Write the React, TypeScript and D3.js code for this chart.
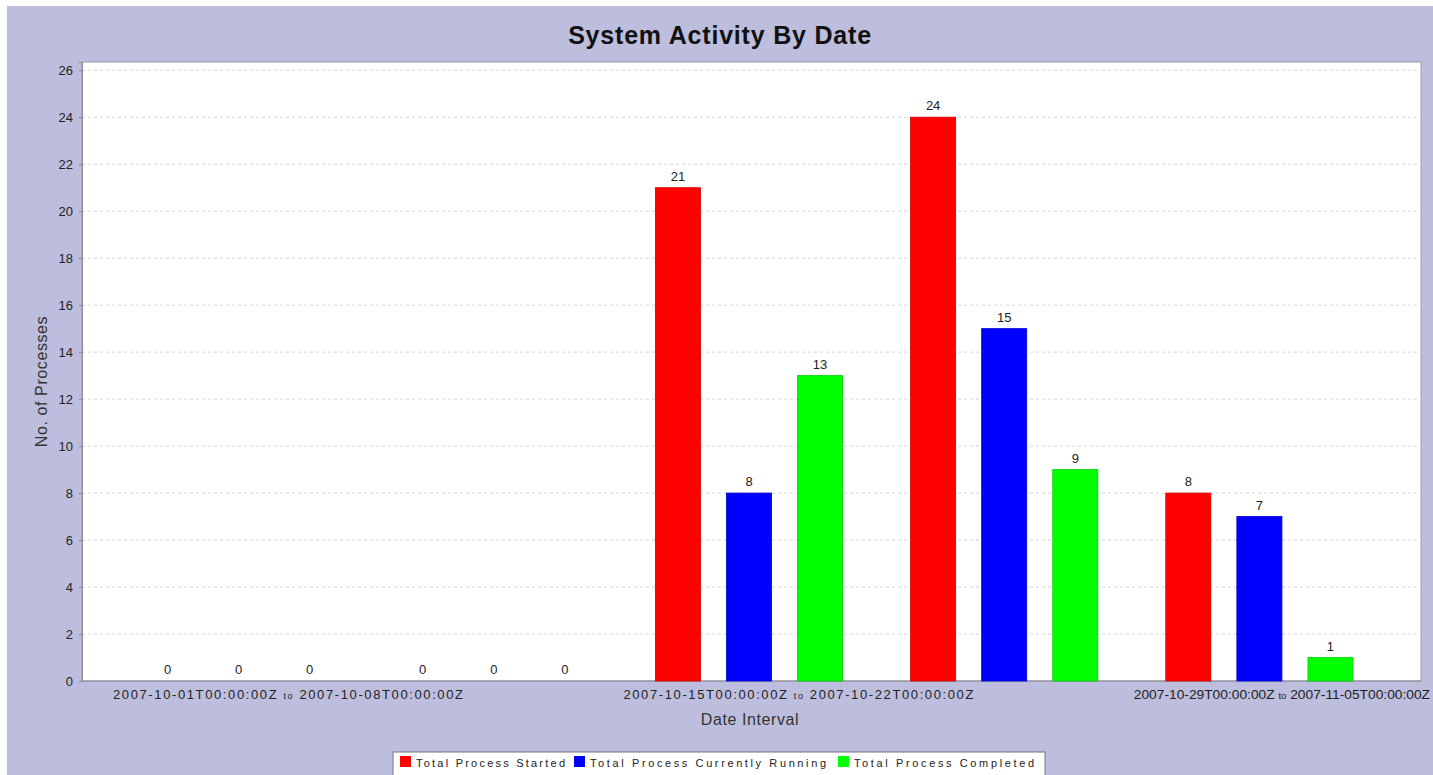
import React, { useEffect, useRef } from "react";
import * as d3 from "d3";

// chart data
const categories = [
  "2007-10-01T00:00:00Z to 2007-10-08T00:00:00Z",
  "2007-10-08T00:00:00Z to 2007-10-15T00:00:00Z",
  "2007-10-15T00:00:00Z to 2007-10-22T00:00:00Z",
  "2007-10-22T00:00:00Z to 2007-10-29T00:00:00Z",
  "2007-10-29T00:00:00Z to 2007-11-05T00:00:00Z",
];
const seriesNames = [
  "Total Process Started",
  "Total Process Currently Running",
  "Total Process Completed",
];
const started = [0, 0, 21, 24, 8];
const running = [0, 0, 8, 15, 7];
const completed = [0, 0, 13, 9, 1];
const seriesColors = ["#ff0000", "#0000ff", "#00ff00"];
const yTicks = [0, 2, 4, 6, 8, 10, 12, 14, 16, 18, 20, 22, 24, 26];

const App = () => {
  const ref = useRef(null);

  useEffect(() => {
    const width = 1433;
    const height = 775;
    const font = "Liberation Sans, Arial, sans-serif";
    const root = d3.select(ref.current);
    root.selectAll("*").remove();

    const svg = root
      .append("svg")
      .attr("width", width)
      .attr("height", height)
      .style("display", "block");

    svg.append("rect").attr("width", width).attr("height", height).attr("fill", "#ffffff");
    // lavender chart background
    svg
      .append("rect")
      .attr("x", 7)
      .attr("y", 6)
      .attr("width", width - 7)
      .attr("height", height - 6)
      .attr("fill", "#bdbedd");

    const plot = { left: 82, top: 62, right: 1421, bottom: 681 };

    const y = d3
      .scaleLinear()
      .domain([0, 26.35])
      .range([plot.bottom, plot.top]);

    const x0 = d3
      .scaleBand()
      .domain(categories)
      .range([111, 1387])
      .paddingInner(0)
      .paddingOuter(0);

    const x1 = d3
      .scaleBand()
      .domain(seriesNames)
      .range([0, x0.bandwidth()])
      .paddingInner(0.366)
      .paddingOuter(0.478);

    const values = [started, running, completed];

    // plot area
    svg
      .append("rect")
      .attr("x", plot.left)
      .attr("y", plot.top)
      .attr("width", plot.right - plot.left)
      .attr("height", plot.bottom - plot.top)
      .attr("fill", "#ffffff")
      .attr("stroke", "#9a9aa8")
      .attr("stroke-width", 1);

    // gridlines
    svg
      .append("g")
      .selectAll("line")
      .data(yTicks.filter((t) => t > 0))
      .join("line")
      .attr("x1", plot.left)
      .attr("x2", plot.right)
      .attr("y1", (d) => y(d))
      .attr("y2", (d) => y(d))
      .attr("stroke", "#d4d4d4")
      .attr("stroke-width", 1)
      .attr("stroke-dasharray", "3,3");

    // y axis
    const yAxis = d3
      .axisLeft(y)
      .tickValues(yTicks)
      .tickSize(3)
      .tickPadding(6)
      .tickFormat(d3.format("d"));
    const gy = svg
      .append("g")
      .attr("transform", `translate(${plot.left},0)`)
      .call(yAxis);
    gy.select(".domain").attr("stroke", "#8a8a96");
    gy.selectAll(".tick line").attr("stroke", "#8a8a96");
    gy.selectAll(".tick text")
      .attr("fill", "#222")
      .style("font-family", font)
      .style("font-size", "13px");

    // x axis line
    svg
      .append("line")
      .attr("x1", plot.left)
      .attr("x2", plot.right)
      .attr("y1", plot.bottom)
      .attr("y2", plot.bottom)
      .attr("stroke", "#8a8a96");

    // bars
    categories.forEach((cat, ci) => {
      seriesNames.forEach((s, si) => {
        const v = values[si][ci];
        const bx = (x0(cat) as number) + (x1(s) as number);
        if (v > 0) {
          svg
            .append("rect")
            .attr("x", bx)
            .attr("y", y(v))
            .attr("width", x1.bandwidth())
            .attr("height", y(0) - y(v))
            .attr("fill", seriesColors[si])
            .attr("stroke", d3.color(seriesColors[si])!.darker(0.6).toString())
            .attr("stroke-width", 0.8);
        }
        svg
          .append("text")
          .attr("x", bx + x1.bandwidth() / 2)
          .attr("y", y(v) - 7)
          .attr("text-anchor", "middle")
          .style("font-family", font)
          .style("font-size", "13px")
          .attr("fill", "#222")
          .text(v);
      });
    });

    // category labels (every other one is hidden, as in the original)
    categories.forEach((cat, ci) => {
      if (ci % 2 !== 0) return;
      const parts = cat.split(" to ");
      const lx = (x0(cat) as number) + 2;
      // the last label is squeezed so it stays inside the picture
      const len = Math.min(350, width - 3 - lx);
      const t = svg
        .append("text")
        .attr("x", lx)
        .attr("y", plot.bottom + 18)
        .attr("textLength", len)
        .attr("lengthAdjust", len < 350 ? "spacingAndGlyphs" : "spacing")
        .style("font-family", font)
        .style("font-size", "13px")
        .attr("fill", "#222");
      t.append("tspan").text(parts[0] + " ");
      t.append("tspan").style("font-size", "9px").text("to");
      t.append("tspan").text(" " + parts[1]);
    });

    // axis titles
    svg
      .append("text")
      .attr("x", 750)
      .attr("y", 725)
      .attr("text-anchor", "middle")
      .style("font-family", font)
      .style("font-size", "16px")
      .style("letter-spacing", "0.6px")
      .attr("fill", "#333")
      .text("Date Interval");

    svg
      .append("text")
      .attr("transform", `translate(47,${(plot.top + plot.bottom) / 2 + 10}) rotate(-90)`)
      .attr("text-anchor", "middle")
      .style("font-family", font)
      .style("font-size", "16px")
      .style("letter-spacing", "0.6px")
      .attr("fill", "#333")
      .text("No. of Processes");

    // title
    svg
      .append("text")
      .attr("x", 720)
      .attr("y", 44)
      .attr("text-anchor", "middle")
      .style("font-family", font)
      .style("font-size", "25px")
      .style("font-weight", "bold")
      .style("letter-spacing", "0.8px")
      .attr("fill", "#111")
      .text("System Activity By Date");

    // legend
    const legend = svg.append("g");
    legend
      .append("rect")
      .attr("x", 393)
      .attr("y", 752)
      .attr("width", 652)
      .attr("height", 30)
      .attr("fill", "#ffffff")
      .attr("stroke", "#777");
    const legendX = [400, 574, 838];
    const legendW = [149, 236, 180];
    seriesNames.forEach((s, si) => {
      legend
        .append("rect")
        .attr("x", legendX[si])
        .attr("y", 756)
        .attr("width", 11)
        .attr("height", 11)
        .attr("fill", seriesColors[si]);
      legend
        .append("text")
        .attr("x", legendX[si] + 16)
        .attr("y", 767)
        .attr("textLength", legendW[si])
        .attr("lengthAdjust", "spacing")
        .style("font-family", font)
        .style("font-size", "11px")
        .attr("fill", "#222")
        .text(s);
    });
  }, []);

  return <div ref={ref} style={{ position: "absolute", left: 0, top: 0 }}></div>;
};

export default App;
